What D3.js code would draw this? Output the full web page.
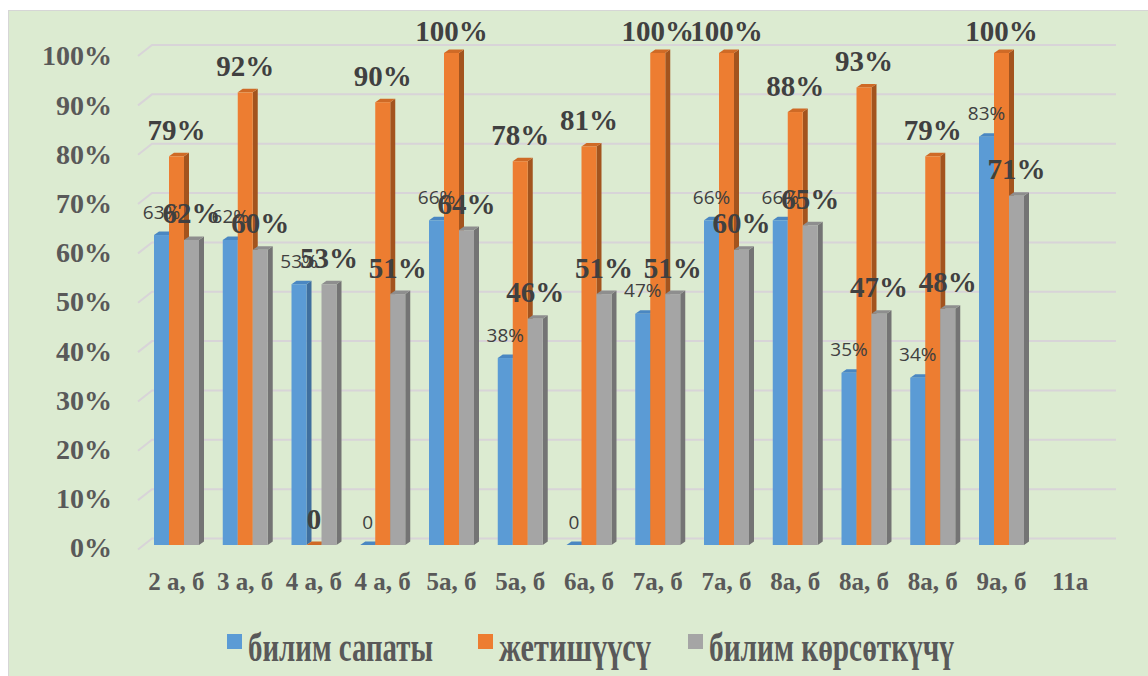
<!DOCTYPE html>
<html>
<head>
<meta charset="utf-8">
<script src="https://cdn.jsdelivr.net/npm/d3@7"></script>
<style>
  html, body { margin: 0; padding: 0; background: #ffffff; }
  svg { display: block; }
</style>
</head>
<body>
<svg id="chart" width="1148" height="676"></svg>
<script>
// ---- data ----
const categories = ["2 а, б", "3 а, б", "4 а, б", "4 а, б", "5а, б", "5а, б", "6а, б", "7а, б", "7а, б", "8а, б", "8а, б", "8а, б", "9а, б", "11а"];
const seriesNames = ["билим сапаты", "жетишүүсү", "билим көрсөткүчү"];
const bilimSapaty = [63, 62, 53, 0, 66, 38, 0, 47, 66, 66, 35, 34, 83, null];
const jetishuusu = [79, 92, 0, 90, 100, 78, 81, 100, 100, 88, 93, 79, 100, null];
const bilimKorsotkuchu = [62, 60, 53, 51, 64, 46, 51, 51, 60, 65, 47, 48, 71, null];
const yTickValues = [0, 10, 20, 30, 40, 50, 60, 70, 80, 90, 100];
const yTickLabels = ["0%", "10%", "20%", "30%", "40%", "50%", "60%", "70%", "80%", "90%", "100%"];

const seriesValues = [bilimSapaty, jetishuusu, bilimKorsotkuchu];
const frontColors = ["#5b9bd5", "#ed7d31", "#a5a5a5"];
const sideColors = ["#3f6f9e", "#a3541e", "#747474"];
const topColors = ["#4a87c2", "#cf6a26", "#8e8e8e"];

const svg = d3.select("#chart");

// background
svg.append("rect")
  .attr("x", 8.5).attr("y", 10.5)
  .attr("width", 1145).attr("height", 670)
  .attr("fill", "#dcebd1")
  .attr("stroke", "#d6d6d6").attr("stroke-width", 1);

// scales
const x = d3.scaleBand().domain(d3.range(categories.length)).range([142, 1104.5]).padding(0);
const inner = d3.scaleBand().domain([0, 1, 2]).range([12, 57]).padding(0);
const yBar = d3.scaleLinear().domain([0, 100]).range([545, 53]);
const yGrid = d3.scaleLinear().domain([0, 100]).range([538.5, 45]);
const dx = 5, dy = -3.5;

// gridlines (back wall with short side-wall segment)
svg.append("g").selectAll("path")
  .data(yTickValues)
  .join("path")
  .attr("d", v => `M138,${yGrid(v) + 11}L152,${yGrid(v)}L1116,${yGrid(v)}`)
  .attr("fill", "none")
  .attr("stroke", "#d8d4d8")
  .attr("stroke-width", 2);

// y axis labels
const yAxis = d3.axisLeft(yBar)
  .tickValues(yTickValues)
  .tickFormat((d, i) => yTickLabels[i])
  .tickSize(0).tickPadding(0);
const gy = svg.append("g").attr("transform", "translate(112,3)").call(yAxis);
gy.select(".domain").remove();
gy.selectAll("text")
  .attr("font-family", "'Liberation Serif', 'Times New Roman', serif")
  .attr("font-weight", "bold")
  .attr("font-size", 28)
  .attr("fill", "#595959");

// x axis labels
const xAxis = d3.axisBottom(x).tickFormat(i => categories[i]).tickSize(0).tickPadding(0);
const gx = svg.append("g").attr("transform", "translate(0,572)").call(xAxis);
gx.select(".domain").remove();
gx.selectAll("text")
  .attr("font-family", "'Liberation Serif', 'Times New Roman', serif")
  .attr("font-weight", "bold")
  .attr("font-size", 25)
  .attr("fill", "#595959");

// bars (3D look)
const barsG = svg.append("g");
seriesValues.forEach((vals, s) => {
  const w = inner.bandwidth();
  vals.forEach((v, i) => {
    if (v === null) return;
    const x0 = x(i) + inner(s);
    const top = yBar(v);
    const bot = yBar(0);
    const g = barsG.append("g");
    g.append("path")
      .attr("d", `M${x0 + w},${top}L${x0 + w + dx},${top + dy}L${x0 + w + dx},${bot + dy}L${x0 + w},${bot}Z`)
      .attr("fill", sideColors[s]);
    g.append("path")
      .attr("d", `M${x0},${top}L${x0 + dx},${top + dy}L${x0 + w + dx},${top + dy}L${x0 + w},${top}Z`)
      .attr("fill", topColors[s]);
    g.append("rect")
      .attr("x", x0).attr("y", top)
      .attr("width", w).attr("height", bot - top)
      .attr("fill", frontColors[s]);
  });
});

// data labels
const labelsG = svg.append("g");
seriesValues.forEach((vals, s) => {
  vals.forEach((v, i) => {
    if (v === null) return;
    const cx = x(i) + inner(s) + inner.bandwidth() / 2;
    const t = labelsG.append("text")
      .attr("x", cx)
      .attr("text-anchor", "middle")
      .attr("fill", "#404040")
      .text(v === 0 ? "0" : v + "%");
    if (s === 0) {
      t.attr("y", yBar(v) - 16.5)
        .attr("font-family", "'Open Sans', 'Liberation Sans', sans-serif")
        .attr("font-size", 19);
    } else {
      t.attr("y", Math.max(yBar(v) - 16.5, 41))
        .attr("font-family", "'Liberation Serif', 'Times New Roman', serif")
        .attr("font-weight", "bold")
        .attr("font-size", 29);
    }
  });
});

// legend
const legendX = [227, 478, 688];
const legendW = [185, 152, 245];
const legend = svg.append("g");
seriesNames.forEach((name, s) => {
  legend.append("rect")
    .attr("x", legendX[s]).attr("y", 634)
    .attr("width", 15).attr("height", 15)
    .attr("fill", frontColors[s]);
  legend.append("text")
    .attr("x", legendX[s] + 21).attr("y", 661)
    .attr("font-family", "'Liberation Serif', 'Times New Roman', serif")
    .attr("font-weight", "bold")
    .attr("font-size", 40)
    .attr("fill", "#595959")
    .attr("textLength", legendW[s])
    .attr("lengthAdjust", "spacingAndGlyphs")
    .text(name);
});
</script>
</body>
</html>
